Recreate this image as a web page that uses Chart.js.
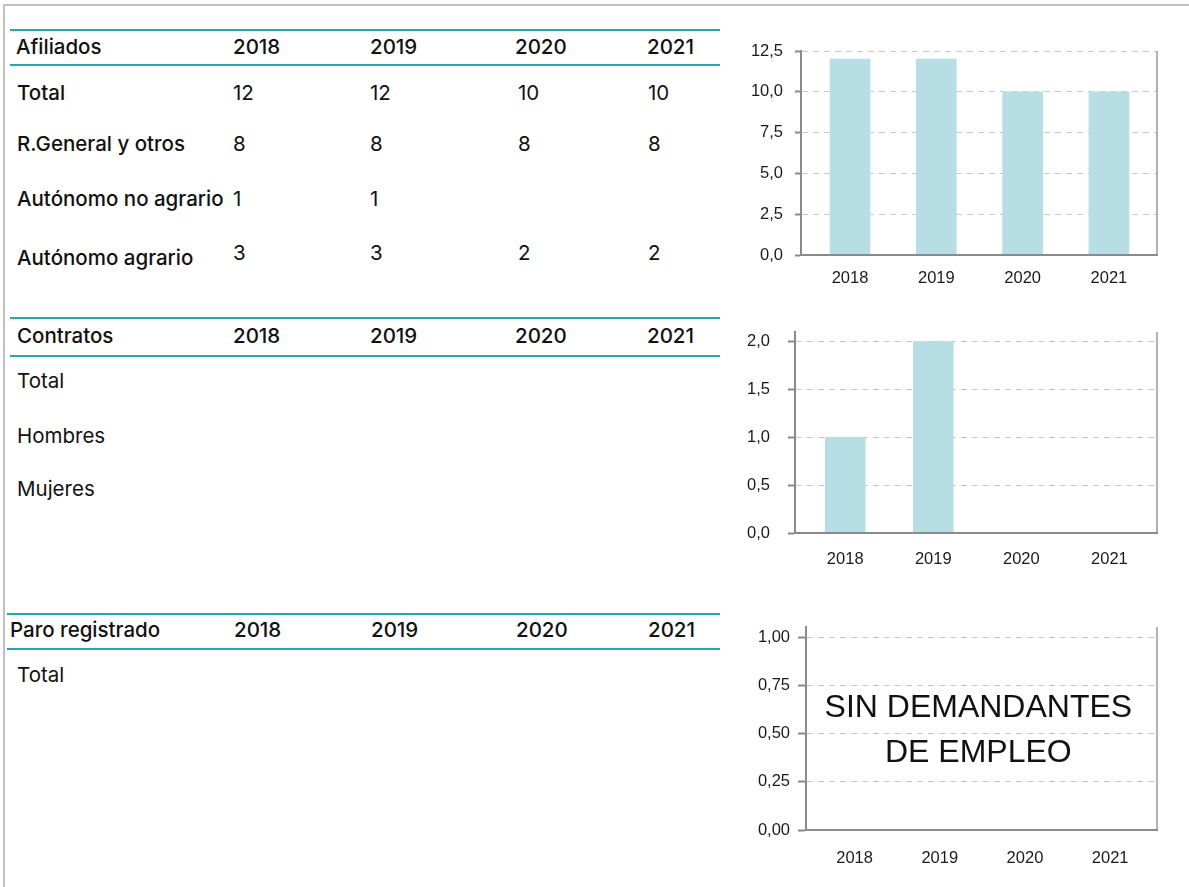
<!DOCTYPE html>
<html><head><meta charset="utf-8">
<script src="https://cdn.jsdelivr.net/npm/chart.js@4/dist/chart.umd.min.js"></script>
<style>
html,body{margin:0;padding:0;background:#fff;}
body{width:1189px;height:887px;position:relative;overflow:hidden;font-family:Inter,"Liberation Sans",Arial,sans-serif;color:#111;}
#frame{position:absolute;left:3px;top:4px;width:1200px;height:900px;border-top:2px solid #c0c0c0;border-left:2px solid #c0c0c0;}
.rule{position:absolute;height:2px;background:#26a9a9;}
.t{position:absolute;font-size:20.5px;line-height:24px;height:24px;white-space:nowrap;transform:translateY(-50%);}
.m{font-weight:500;}
.cw{position:absolute;}
</style></head>
<body>
<div id="frame"></div>
<script>
// ---- data ----
const years = ['2018', '2019', '2020', '2021'];
const afiliadosRows = ['Total', 'R.General y otros', 'Autónomo no agrario', 'Autónomo agrario'];
const afiTotal = [12, 12, 10, 10];
const afiGeneral = [8, 8, 8, 8];
const afiNoAgrario = [1, 1, null, null];
const afiAgrario = [3, 3, 2, 2];
const contratosRows = ['Total', 'Hombres', 'Mujeres'];
const contratosSerie = [1, 2, 0, 0];
const paroRows = ['Total'];
const paroSerie = [0, 0, 0, 0];
const noDataText = ['SIN DEMANDANTES', 'DE EMPLEO'];

// ---- tables ----
function txt(s, x, y, cls) {
  const d = document.createElement('div');
  d.className = 't ' + (cls || '');
  d.textContent = s;
  d.style.left = x + 'px';
  d.style.top = y + 'px';
  document.body.appendChild(d);
}
function rule(x1, x2, y) {
  const d = document.createElement('div');
  d.className = 'rule';
  d.style.left = x1 + 'px';
  d.style.width = (x2 - x1) + 'px';
  d.style.top = (y - 1) + 'px';
  document.body.appendChild(d);
}
const valX = [233, 370, 518, 648];
const hdrX = [233, 370, 515, 647];
const hdrX3 = [234, 371, 516, 648];

// Afiliados
rule(10, 720, 30); rule(10, 720, 65);
txt('Afiliados', 16, 47, 'm');
years.forEach((y, i) => txt(y, hdrX[i], 47, 'm'));
const afiVals = [afiTotal, afiGeneral, afiNoAgrario, afiAgrario];
const rowY1 = [93, 144, 199, 258];
const valY1 = [93, 144, 199, 253];
afiliadosRows.forEach((r, k) => {
  txt(r, 17, rowY1[k], 'm');
  afiVals[k].forEach((v, i) => { if (v != null) txt(String(v), valX[i], valY1[k]); });
});

// Contratos
rule(10, 720, 318); rule(10, 720, 356);
txt('Contratos', 17, 336, 'm');
years.forEach((y, i) => txt(y, hdrX[i], 336, 'm'));
const rowY2 = [381, 436, 489];
contratosRows.forEach((r, k) => txt(r, 17, rowY2[k]));

// Paro registrado
rule(7, 720, 614); rule(7, 720, 649);
txt('Paro registrado', 10, 630, 'm');
years.forEach((y, i) => txt(y, hdrX3[i], 630, 'm'));
const rowY3 = [675];
paroRows.forEach((r, k) => txt(r, 17, rowY3[k]));

// ---- charts ----
const AXIS = '#8a8a8a';
const BAR = '#b7dde5';
const tickFont = {family: '"Liberation Sans", Arial, sans-serif', size: 16.5};

const rightBorder = {
  id: 'rightBorder',
  afterDatasetsDraw(chart) {
    const a = chart.chartArea, ctx = chart.ctx;
    ctx.save();
    ctx.strokeStyle = '#9a9a9a';
    ctx.lineWidth = 1.5;
    ctx.beginPath();
    ctx.moveTo(a.right, a.top);
    ctx.lineTo(a.right, a.bottom);
    ctx.stroke();
    ctx.restore();
  }
};

function barChart(c) {
  const padTop = 34, padRight = 12, xH = 50;
  const left = c.axisX - c.yW;
  const top = c.topY - padTop;
  const wrap = document.createElement('div');
  wrap.className = 'cw';
  wrap.style.left = left + 'px';
  wrap.style.top = top + 'px';
  wrap.style.width = (c.rightX + padRight - left) + 'px';
  wrap.style.height = (c.bottomY + xH - top) + 'px';
  const cv = document.createElement('canvas');
  wrap.appendChild(cv);
  document.body.appendChild(wrap);
  const plugins = [rightBorder];
  if (c.note) {
    plugins.push({
      id: 'note',
      afterDatasetsDraw(chart) {
        const ctx = chart.ctx, xs = chart.scales.x, ys = chart.scales.y;
        ctx.save();
        ctx.fillStyle = '#111';
        ctx.font = '32px "Liberation Sans", Arial, sans-serif';
        ctx.textAlign = 'center';
        ctx.textBaseline = 'middle';
        const cx = xs.getPixelForValue(1.5) - 4;
        ctx.fillText(c.note[0], cx, ys.getPixelForValue(0.632));
        ctx.fillText(c.note[1], cx, ys.getPixelForValue(0.398));
        ctx.restore();
      }
    });
  }
  const yTicks = [];
  for (let v = 0; v <= c.tickMax + 1e-9; v += c.step) yTicks.push({value: +v.toFixed(4)});
  return new Chart(cv, {
    type: 'bar',
    data: {
      datasets: [{
        data: c.values.map((v, i) => ({x: i, y: v})),
        backgroundColor: BAR,
        borderWidth: 0,
        barThickness: 40
      }]
    },
    plugins,
    options: {
      responsive: true,
      maintainAspectRatio: false,
      animation: false,
      devicePixelRatio: 1,
      layout: {padding: {top: padTop, right: padRight, left: 0, bottom: 0}},
      plugins: {legend: {display: false}, tooltip: {enabled: false}},
      scales: {
        x: {
          type: 'linear', min: c.xMin, max: c.xMax, offset: false,
          afterBuildTicks: s => { s.ticks = years.map((_, i) => ({value: i})); },
          afterFit: s => { s.height = xH; },
          grid: {display: false, drawTicks: false, offset: false},
          border: {display: true, color: AXIS, width: 2, z: 1},
          ticks: {callback: v => years[v], padding: c.xPad, color: '#1a1a1a', font: tickFont, autoSkip: false, maxRotation: 0}
        },
        y: {
          min: 0, max: c.yMax,
          afterFit: s => { s.width = c.yW; },
          afterBuildTicks: s => { s.ticks = yTicks.map(t => ({value: t.value})); },
          ticks: {stepSize: c.step, callback: v => Number(v).toFixed(c.dec).replace('.', ','), padding: c.pad, color: '#1a1a1a', font: tickFont},
          grid: {color: '#c8c8c8', lineWidth: 1, drawTicks: true, tickLength: c.tl, tickColor: AXIS, tickWidth: 2},
          border: {display: true, color: AXIS, width: 2, dash: [6, 5]}
        }
      }
    }
  });
}

barChart({axisX: 801, rightX: 1157, topY: 51, bottomY: 255, yW: 70, values: afiTotal,
  yMax: 12.5, tickMax: 12.5, step: 2.5, dec: 1, tl: 6, pad: 12, xPad: 14, xMin: -0.568, xMax: 3.557});
barChart({axisX: 795, rightX: 1157, topY: 332, bottomY: 533, yW: 70, values: contratosSerie,
  yMax: 2.1, tickMax: 2, step: 0.5, dec: 1, tl: 7, pad: 18, xPad: 17, xMin: -0.57, xMax: 3.54});
barChart({axisX: 806, rightX: 1157, topY: 627, bottomY: 830, yW: 70, values: paroSerie,
  yMax: 1.052, tickMax: 1, step: 0.25, dec: 2, tl: 8, pad: 8, xPad: 19, xMin: -0.57, xMax: 3.55, note: noDataText});
</script>
</body></html>
